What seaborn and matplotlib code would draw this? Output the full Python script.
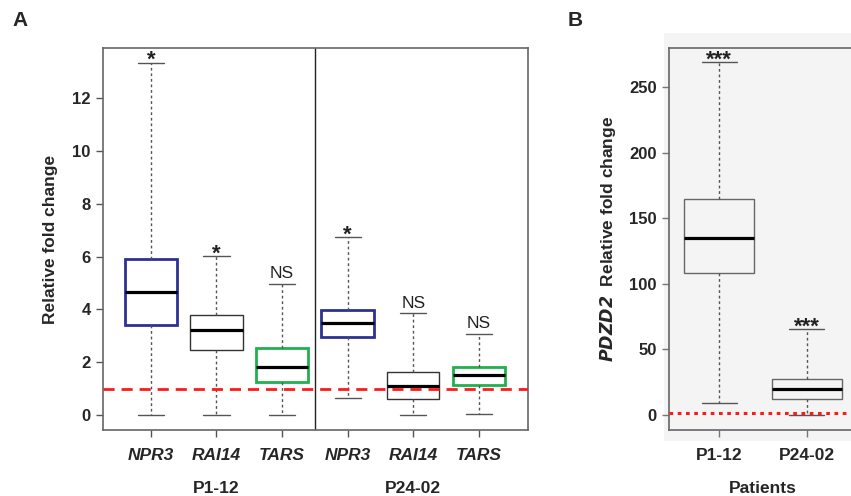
import numpy as np
import pandas as pd
import matplotlib
matplotlib.use("Agg")
import matplotlib.pyplot as plt
import matplotlib.transforms as mtransforms
from matplotlib.patches import Rectangle
import seaborn as sns

sns.set_style("white")
plt.rcParams['font.family'] = ['Liberation Sans', 'DejaVu Sans']

# ---------------- data ----------------
# Panel A: five-number summaries (min, Q1, median, Q3, max)
genes_a = ["NPR3", "RAI14", "TARS", "NPR3", "RAI14", "TARS"]
groups_a = ["P1-12", "P24-02"]
a_min = [0.0, 0.0, 0.0, 0.65, 0.0, 0.02]
a_q1 = [3.42, 2.45, 1.25, 2.95, 0.62, 1.12]
a_med = [4.65, 3.20, 1.82, 3.49, 1.10, 1.50]
a_q3 = [5.90, 3.80, 2.52, 3.98, 1.62, 1.80]
a_max = [13.35, 6.02, 4.97, 6.73, 3.85, 3.08]
a_sig = ["*", "*", "NS", "*", "NS", "NS"]

# Panel B
patients_b = ["P1-12", "P24-02"]
b_min = [9.0, 0.0]
b_q1 = [108.5, 12.0]
b_med = [135.0, 19.5]
b_q3 = [164.5, 27.5]
b_max = [269.5, 65.5]
b_sig = ["***", "***"]

yticks_a = [0, 2, 4, 6, 8, 10, 12]
yticks_b = [0, 50, 100, 150, 200, 250]

edge_a = ["#2e3192", "#333333", "#1fb14f", "#2e3192", "#333333", "#1fb14f"]
lw_a = [2.0, 1.0, 2.0, 2.0, 1.0, 2.0]

W, H = 851, 496
fig = plt.figure(figsize=(W / 100, H / 100), dpi=100)


def frac(x0, y0, x1, y1):
    return [x0 / W, 1 - y1 / H, (x1 - x0) / W, (y1 - y0) / H]


# background for panel B
bg = Rectangle((664 / W, 1 - 441 / H), 1.0, (441 - 33) / H,
               transform=fig.transFigure, facecolor="#f4f4f4",
               edgecolor="none", zorder=-10)
fig.patches.append(bg)

axA = fig.add_axes(frac(103, 48, 528, 430))
axB = fig.add_axes(frac(669, 48, 857, 430))
axB.set_facecolor("#f4f4f4")

whisk_kw = dict(color="#555555", linestyle=(0, (2, 2)), linewidth=1.0)
cap_kw = dict(color="#555555", linewidth=1.0)
med_kw = dict(color="black", linewidth=2.3, solid_capstyle="butt")

FS = 12.5


def draw_box(ax, pos, vals, edge, lw, face="white"):
    df = pd.DataFrame({"x": [pos] * 5, "y": vals})
    sns.boxplot(data=df, x="x", y="y", native_scale=True, whis=(0, 100),
                width=0.8, color=face, linecolor=edge, linewidth=lw,
                showfliers=False, ax=ax, saturation=1,
                medianprops=dict(med_kw), whiskerprops=dict(whisk_kw),
                capprops=dict(cap_kw))


positions_a = list(range(len(genes_a)))
for i in positions_a:
    vals = [a_min[i], a_q1[i], a_med[i], a_q3[i], a_max[i]]
    draw_box(axA, i, vals, edge_a[i], lw_a[i])
    if a_sig[i] == "*":
        axA.text(i, a_max[i] - 0.32, a_sig[i], ha="center", va="bottom",
                 fontsize=16, fontweight="bold", color="#222222")
    else:
        axA.text(i, a_max[i] + 0.1, a_sig[i], ha="center", va="bottom",
                 fontsize=12.5, color="#222222")

axA.axhline(1, color="#ff1a1a", linestyle=(0, (4, 2.5)), linewidth=2, zorder=5)
axA.axvline(2.5, color="#222222", linewidth=1.0)
axA.set_xlim(-0.73, 5.75)
axA.set_ylim(-0.57, 13.9)
axA.set_yticks(yticks_a)
axA.set_yticklabels([str(t) for t in yticks_a], fontsize=12, fontweight="bold")
axA.set_xticks(positions_a)
axA.set_xticklabels(genes_a, fontsize=FS, fontweight="bold", style="italic")
axA.tick_params(axis="both", direction="out", length=5, width=1, color="#555555",
                bottom=True, left=True)
axA.tick_params(axis="x", pad=8)
axA.tick_params(axis="y", pad=4)
axA.set_xlabel("")
axA.set_ylabel("Relative fold change", fontsize=FS, fontweight="bold", labelpad=10)
for s in axA.spines.values():
    s.set_color("#666666")
    s.set_linewidth(1.2)
off = mtransforms.ScaledTranslation(0, -0.51, fig.dpi_scale_trans)
for g, xc in zip(groups_a, [1, 4]):
    axA.text(xc, -0.57, g, transform=axA.transData + off, ha="center", va="top",
             fontsize=FS, fontweight="bold")

positions_b = [0, 1]
for i in positions_b:
    vals = [b_min[i], b_q1[i], b_med[i], b_q3[i], b_max[i]]
    draw_box(axB, i, vals, "#666666", 1.0, face="#f4f4f4")
    axB.text(i, b_max[i] - 6.5, b_sig[i], ha="center", va="bottom",
             fontsize=16, fontweight="bold", color="#222222")

axB.axhline(1, color="#ff1a1a", linestyle=(0, (1.2, 1.5)), linewidth=2.2, zorder=5)
axB.set_xlim(-0.57, 1.57)
axB.set_ylim(-11.7, 280)
axB.set_yticks(yticks_b)
axB.set_yticklabels([str(t) for t in yticks_b], fontsize=12, fontweight="bold")
axB.set_xticks(positions_b)
axB.set_xticklabels(patients_b, fontsize=FS, fontweight="bold")
axB.tick_params(axis="both", direction="out", length=5, width=1, color="#777777",
                bottom=True, left=True)
axB.tick_params(axis="x", pad=8)
axB.tick_params(axis="y", pad=4)
axB.set_xlabel("Patients", fontsize=FS, fontweight="bold", labelpad=13)
axB.set_ylabel(r"$\bfit{PDZD2}$  Relative fold change", fontsize=FS, fontweight="bold", labelpad=8)
for s in axB.spines.values():
    s.set_color("#666666")
    s.set_linewidth(1.2)
axB.spines["right"].set_visible(False)

fig.text(12 / W, 1 - 20 / H, "A", fontsize=15, fontweight="bold", va="center", ha="left")
fig.text(568 / W, 1 - 20 / H, "B", fontsize=15, fontweight="bold", va="center", ha="left")

fig.savefig("out.png", dpi=100)
